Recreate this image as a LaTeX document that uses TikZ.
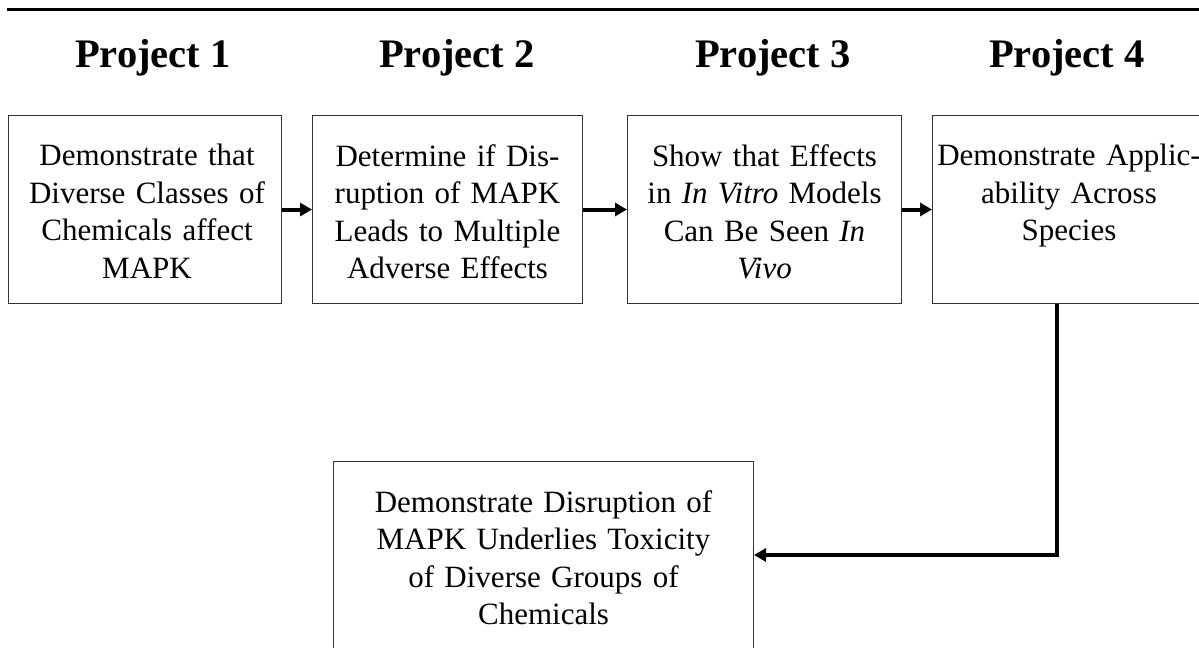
\documentclass[tikz,border=0pt]{standalone}
\usepackage{fontspec}
\setmainfont{Liberation Serif}
\usetikzlibrary{arrows.meta,calc}

\tikzset{
  stagebox/.style={draw=black!80, line width=0.75pt, rectangle, inner sep=0pt},
  stagetext/.style={anchor=north, inner sep=0pt, text width=210pt, align=center,
    font=\fontsize{23.25}{28.1}\selectfont},
  heading/.style={anchor=base, inner sep=0pt, font=\fontsize{30.4}{36}\selectfont\bfseries},
  conn/.style={line width=3pt, -{Triangle[length=9pt, width=9.75pt]}},
}

\begin{document}
\begin{tikzpicture}[x=0.75pt, y=-0.75pt]
  % page frame, in pixel units measured from the top left corner
  \clip (0,0) rectangle (1199,647);
  \fill[white] (0,0) rectangle (1199,647);

  % rule across the top
  \draw[line width=2.4pt] (7,9.5) -- (1199,9.5);

  % project headings
  \node[heading] (h1) at (153,67) {Project 1};
  \node[heading] (h2) at (457,67) {Project 2};
  \node[heading] (h3) at (773,67) {Project 3};
  \node[heading] (h4) at (1067,67) {Project 4};

  % project boxes
  \node[stagebox, minimum width=204.75pt, minimum height=141pt, anchor=north west] (b1) at (8,115) {};
  \node[stagebox, minimum width=202.5pt, minimum height=141pt, anchor=north west] (b2) at (312,115) {};
  \node[stagebox, minimum width=205.5pt, minimum height=141pt, anchor=north west] (b3) at (627,115) {};
  \node[stagebox, minimum width=204.75pt, minimum height=141pt, anchor=north west] (b4) at (932,115) {};
  \node[stagebox, minimum width=315pt, minimum height=150pt, anchor=north west] (b5) at (333,461) {};

  % box texts, set from the top of each box
  \node[stagetext] (t1) at ($(b1.north)+(2,29)$) {Demonstrate that\\Diverse Classes of\\Chemicals affect\\MAPK};
  \node[stagetext] (t2) at ($(b2.north)+(0,29)$) {Determine if Dis-\\ruption of MAPK\\Leads to Multiple\\Adverse Effects};
  \node[stagetext] (t3) at ($(b3.north)+(0,29)$) {Show that Effects\\in \textit{In Vitro} Models\\Can Be Seen \textit{In}\\\textit{Vivo}};
  \node[stagetext] (t4) at ($(b4.north)+(0,29)$) {Demonstrate Applic-\\ability Across\\Species};
  \node[stagetext, text width=300pt] (t5) at ($(b5.north)+(0,29)$) {Demonstrate Disruption of\\MAPK Underlies Toxicity\\of Diverse Groups of\\Chemicals};

  % connectors
  \draw[conn] (b1.east) -- (b2.west);
  \draw[conn] (b2.east) -- (b3.west);
  \draw[conn] (b3.east) -- (b4.west);
  \coordinate (turn) at (1057,555);
  \draw[conn] (turn |- b4.south) -- (turn) -- (turn -| b5.east);
\end{tikzpicture}
\end{document}
